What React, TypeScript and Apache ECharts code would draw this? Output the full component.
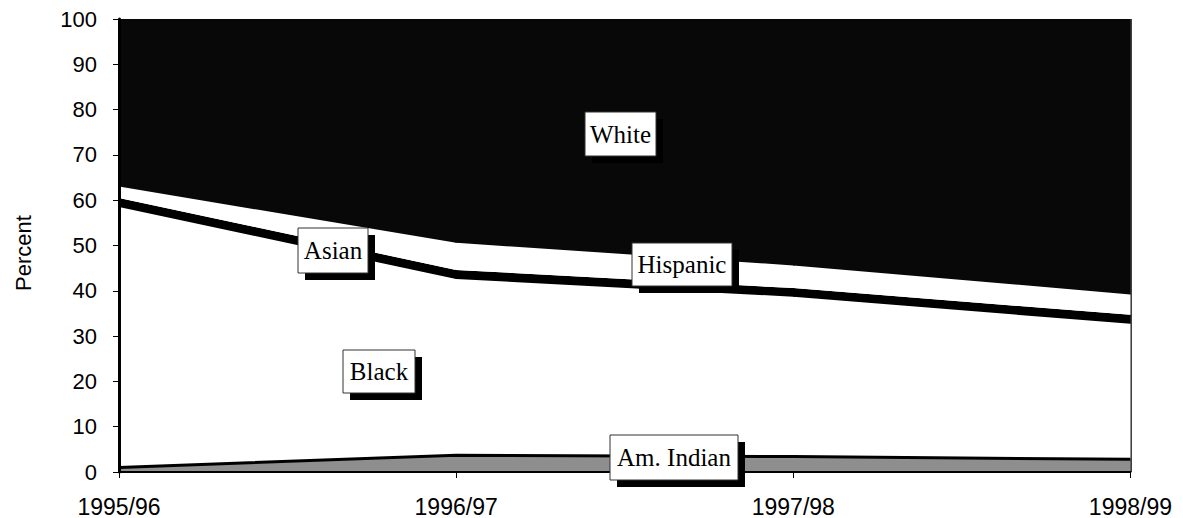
import React, { useEffect, useRef } from "react";
import * as echarts from "echarts";

const categories = ["1995/96", "1996/97", "1997/98", "1998/99"];
const amIndian = [1.0, 3.7, 3.4, 2.8];
const black = [57.5, 38.9, 35.3, 29.9];
const asian = [2.0, 2.0, 1.9, 2.0];
const hispanic = [2.5, 6.0, 5.0, 4.5];
const white = [37.0, 49.4, 54.4, 60.8];
const yTicks = [0, 10, 20, 30, 40, 50, 60, 70, 80, 90, 100];

// label boxes, page-pixel centres (the chart div sits 8px inside the page)
const labelBoxes = [
  { text: "White", cx: 620.5, cy: 134, w: 71, h: 44 },
  { text: "Asian", cx: 333, cy: 250.5, w: 70, h: 45 },
  { text: "Hispanic", cx: 682, cy: 264.5, w: 100, h: 43 },
  { text: "Black", cx: 379, cy: 371.5, w: 72, h: 43 },
  { text: "Am. Indian", cx: 674, cy: 457.5, w: 128, h: 45 },
];

const OFF = 8;

export default function App() {
  const ref = useRef<HTMLDivElement>(null);
  useEffect(() => {
    if (!ref.current) return;
    const chart = echarts.init(ref.current, null, { renderer: "svg" });
    const graphics: any[] = [];
    labelBoxes.forEach((b) => {
      const cx = b.cx - OFF;
      const cy = b.cy - OFF;
      const x = cx - b.w / 2;
      const y = cy - b.h / 2;
      graphics.push({
        type: "rect",
        z: 10,
        shape: { x: x + 7, y: y + 7, width: b.w, height: b.h },
        style: { fill: "#000" },
      });
      graphics.push({
        type: "rect",
        z: 11,
        shape: { x, y, width: b.w, height: b.h },
        style: { fill: "#fff", stroke: "#333", lineWidth: 1 },
      });
      graphics.push({
        type: "text",
        z: 12,
        x: cx,
        y: cy,
        style: {
          text: b.text,
          fill: "#000",
          font: '25px "Liberation Serif", "Times New Roman", serif',
          align: "center",
          verticalAlign: "middle",
        },
      });
    });
    graphics.push({
      type: "text",
      z: 12,
      x: 23 - OFF,
      y: 253 - OFF,
      rotation: Math.PI / 2,
      style: {
        text: "Percent",
        fill: "#000",
        font: '22px "Liberation Sans", Arial, sans-serif',
        align: "center",
        verticalAlign: "middle",
      },
    });
    const mk = (name: string, data: number[], color: string, extra: any = {}) => ({
      name,
      type: "line",
      stack: "total",
      data,
      symbol: "none",
      lineStyle: { width: 0 },
      areaStyle: { color, opacity: 1 },
      ...extra,
    });
    chart.setOption({
      animation: false,
      grid: { left: 111, right: 43, top: 10, bottom: 46, containLabel: false },
      xAxis: {
        type: "category",
        data: categories,
        boundaryGap: false,
        z: 3,
        axisLine: { lineStyle: { color: "#000", width: 2 } },
        axisTick: { show: true, length: 6, lineStyle: { color: "#000" } },
        axisLabel: {
          color: "#000",
          fontSize: 23,
          fontFamily: '"Liberation Sans", Arial, sans-serif',
          margin: 23,
        },
        splitLine: { show: true, lineStyle: { color: "#000", width: 1.5 } },
      },
      yAxis: {
        type: "value",
        min: 0,
        max: 100,
        interval: 10,
        z: 3,
        axisLine: { show: true, lineStyle: { color: "#000", width: 3 } },
        axisTick: { show: true, length: 6, lineStyle: { color: "#000" } },
        axisLabel: {
          color: "#000",
          fontSize: 22,
          fontFamily: '"Liberation Sans", Arial, sans-serif',
          margin: 22,
          formatter: (v: number) => (yTicks.includes(v) ? String(v) : ""),
        },
        splitLine: { show: false },
      },
      series: [
        mk("Am. Indian", amIndian, "#8e8e8e", { lineStyle: { width: 3, color: "#000" } }),
        mk("Black", black, "#ffffff"),
        mk("Asian", asian, "#000000"),
        mk("Hispanic", hispanic, "#ffffff"),
        mk("White", white, "#080808"),
      ],
      graphic: graphics,
    });
    return () => chart.dispose();
  }, []);
  return <div ref={ref} style={{ width: 1167, height: 510 }} />;
}
